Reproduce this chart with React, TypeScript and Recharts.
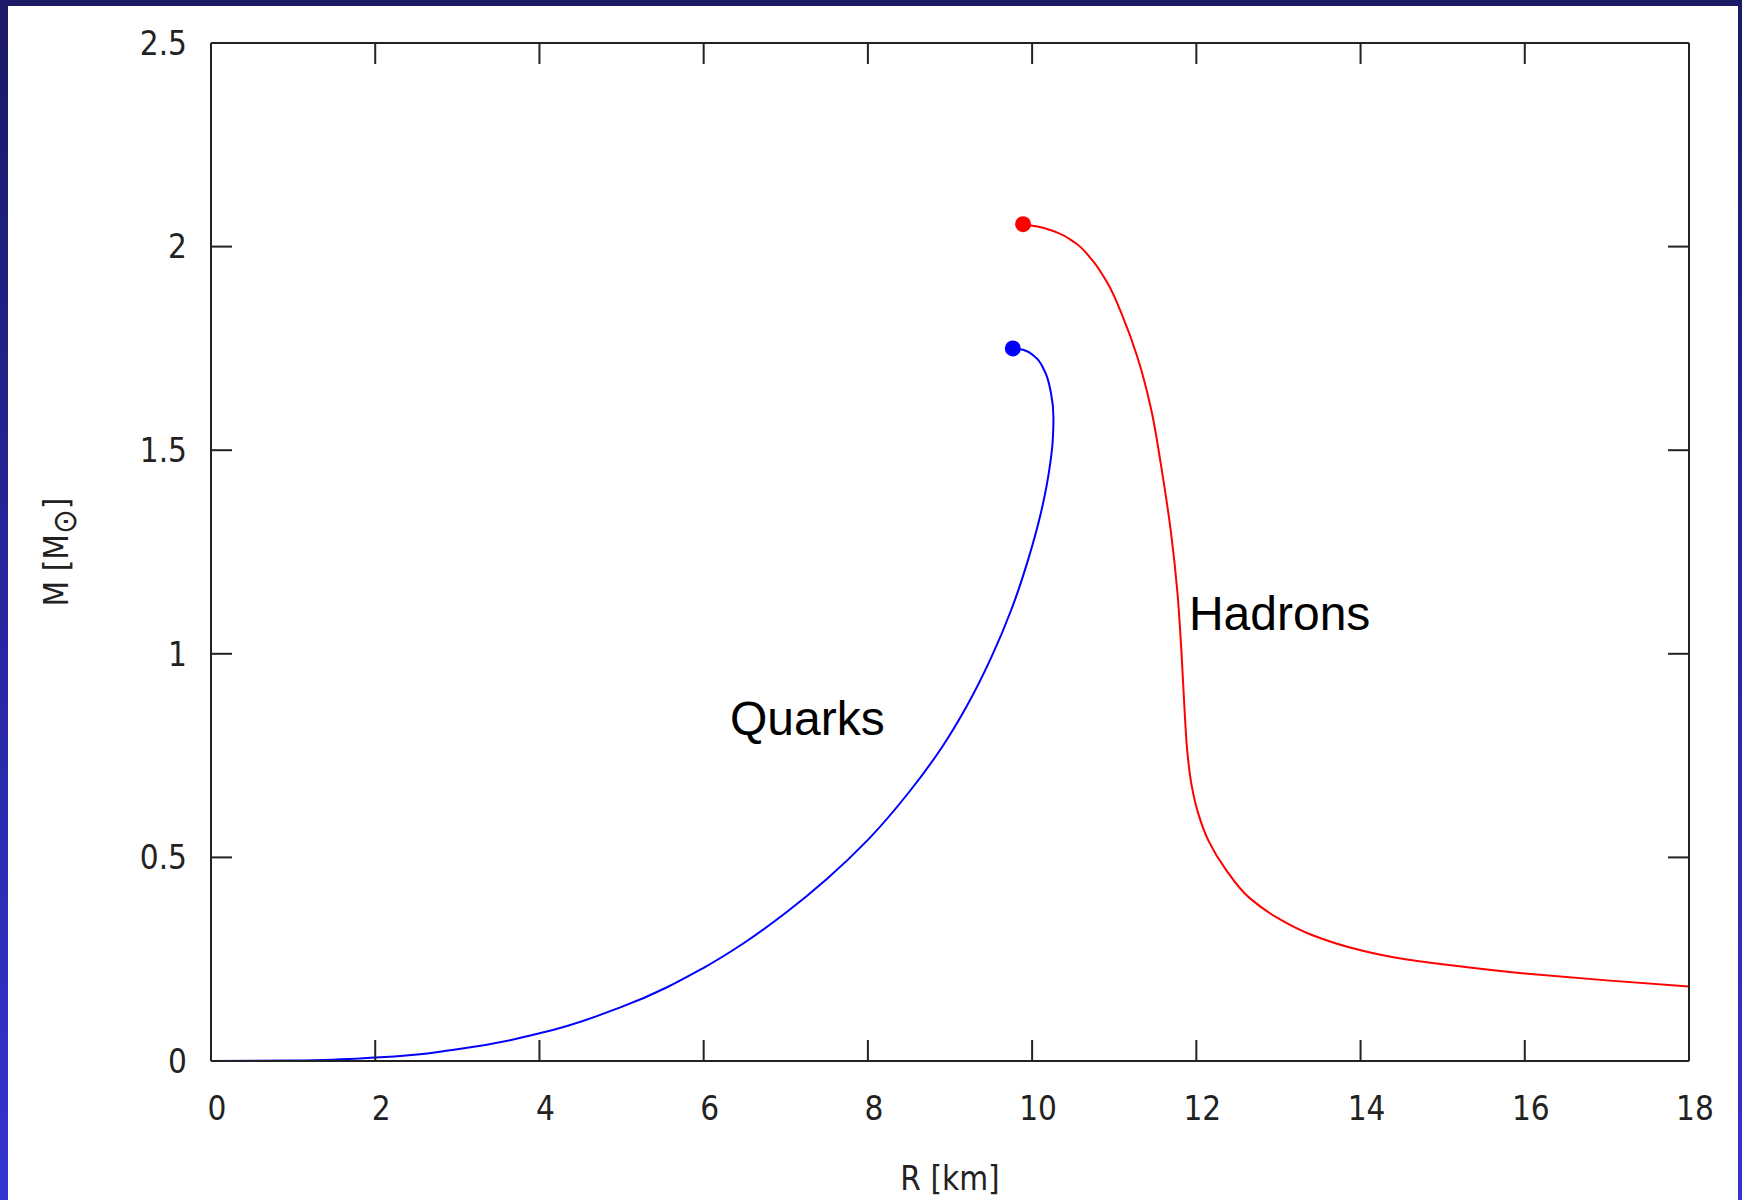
import React from 'react';
import { LineChart, Line, XAxis, YAxis, ReferenceDot, Label } from 'recharts';

// axis ticks
const xTicks = [0, 2, 4, 6, 8, 10, 12, 14, 16, 18];
const yTicks = [0, 0.5, 1, 1.5, 2, 2.5];

// quark star branch (R in km, M in solar masses)
const quarksR = [0, 1, 2, 3, 4, 5, 6, 6.5, 7, 7.5, 8, 8.5, 8.9, 9.2, 9.5, 9.75, 9.95, 10.1, 10.2, 10.25, 10.26, 10.23, 10.15, 10.03, 9.9, 9.77];
const quarksM = [0, 0.001, 0.0085, 0.029, 0.068, 0.133, 0.229, 0.291, 0.364, 0.447, 0.543, 0.66, 0.77, 0.87, 0.99, 1.11, 1.23, 1.34, 1.44, 1.52, 1.58, 1.64, 1.695, 1.73, 1.746, 1.75];

// hadronic branch
const hadronsR = [9.89, 10.05, 10.3, 10.52, 10.72, 10.92, 11.1, 11.28, 11.45, 11.58, 11.69, 11.77, 11.82, 11.86, 11.89, 11.94, 12.02, 12.15, 12.36, 12.65, 13.0, 13.4, 13.85, 14.4, 15.1, 16.0, 17.0, 18.0];
const hadronsM = [2.055, 2.05, 2.035, 2.01, 1.97, 1.91, 1.83, 1.73, 1.6, 1.45, 1.3, 1.15, 1.0, 0.85, 0.76, 0.68, 0.61, 0.54, 0.47, 0.4, 0.35, 0.31, 0.28, 0.255, 0.235, 0.215, 0.198, 0.183];

// maximum-mass points
const maxR = [9.765, 9.89];
const maxM = [1.75, 2.055];
const maxColors = ['#0000ff', '#ff0000'];

// curve labels
const labelNames = ['Quarks', 'Hadrons'];
const labelR = [6.32, 11.91];
const labelM = [0.842, 1.1];

const quarks = quarksR.map((r, i) => ({ r, m: quarksM[i] }));
const hadrons = hadronsR.map((r, i) => ({ r, m: hadronsM[i] }));

const tickFont = "'DejaVu Sans Condensed', 'DejaVu Sans', sans-serif";
const axisColor = '#222';
const frameLine = { stroke: axisColor, strokeWidth: 2 };

export default function App() {
  return (
    <div
      style={{
        position: 'absolute',
        left: 0,
        top: 0,
        width: 1742,
        height: 1200,
        background: 'linear-gradient(to bottom, #1a1a66 0%, #2626a0 50%, #3434d0 100%)',
        overflow: 'hidden',
      }}
    >
      <div
        style={{
          position: 'absolute',
          left: 7.5,
          top: 5.5,
          width: 1730,
          height: 1195,
          background: '#fff',
        }}
      />
      <div style={{ position: 'absolute', left: 0, top: 0 }}>
        <LineChart
          width={1742}
          height={1200}
          margin={{ top: 23, right: 33, bottom: 19, left: 61 }}
        >
          <XAxis
            xAxisId="bottom"
            type="number"
            dataKey="r"
            domain={[0, 18]}
            ticks={xTicks}
            allowDataOverflow
            height={120}
            tickSize={-21}
            tickMargin={57}
            axisLine={frameLine}
            tickLine={frameLine}
            tick={{ fill: axisColor, fontSize: 33, fontFamily: tickFont, dx: 6 }}
          >
            <Label
              content={() => (
                <text
                  x={950}
                  y={1190}
                  textAnchor="middle"
                  fill={axisColor}
                  fontSize={33}
                  fontFamily={tickFont}
                >
                  R [km]
                </text>
              )}
            />
          </XAxis>
          <XAxis
            xAxisId="top"
            orientation="top"
            type="number"
            dataKey="r"
            domain={[0, 18]}
            ticks={xTicks}
            allowDataOverflow
            height={20}
            tickSize={-21}
            tick={() => <g />}
            axisLine={frameLine}
            tickLine={frameLine}
          />
          <YAxis
            yAxisId="left"
            type="number"
            domain={[0, 2.5]}
            ticks={yTicks}
            allowDataOverflow
            width={150}
            tickSize={-21}
            tickMargin={45}
            axisLine={frameLine}
            tickLine={frameLine}
            tick={{ fill: axisColor, fontSize: 33, fontFamily: tickFont }}
          >
            <Label
              content={() => (
                <text
                  transform="translate(68,552) rotate(-90)"
                  textAnchor="middle"
                  fill={axisColor}
                  fontSize={33}
                  fontFamily={tickFont}
                >
                  M [M<tspan dy={8}>⊙</tspan>
                  <tspan dy={-8}>]</tspan>
                </text>
              )}
            />
          </YAxis>
          <YAxis
            yAxisId="right"
            orientation="right"
            type="number"
            domain={[0, 2.5]}
            ticks={yTicks}
            allowDataOverflow
            width={20}
            tickSize={-21}
            tick={() => <g />}
            axisLine={frameLine}
            tickLine={frameLine}
          />
          {/* invisible series so the mirrored frame axes get their ticks */}
          <Line
            xAxisId="top"
            yAxisId="right"
            data={hadrons}
            dataKey="m"
            stroke="none"
            dot={false}
            activeDot={false}
            isAnimationActive={false}
          />
          <Line
            xAxisId="bottom"
            yAxisId="left"
            data={quarks}
            dataKey="m"
            type="monotoneY"
            stroke="#0000ff"
            strokeWidth={2}
            dot={false}
            isAnimationActive={false}
          />
          <Line
            xAxisId="bottom"
            yAxisId="left"
            data={hadrons}
            dataKey="m"
            type="monotoneY"
            stroke="#ff0000"
            strokeWidth={2}
            dot={false}
            isAnimationActive={false}
          />
          {maxR.map((r, i) => (
            <ReferenceDot
              key={`max-${i}`}
              xAxisId="bottom"
              yAxisId="left"
              x={r}
              y={maxM[i]}
              r={8}
              fill={maxColors[i]}
              stroke="none"
            />
          ))}
          {labelNames.map((name, i) => (
            <ReferenceDot
              key={`lbl-${i}`}
              xAxisId="bottom"
              yAxisId="left"
              x={labelR[i]}
              y={labelM[i]}
              r={0}
              fill="none"
              stroke="none"
              label={{
                value: name,
                position: 'right',
                offset: 0,
                fontSize: 48,
                fill: '#000',
                fontFamily: "'Liberation Sans', Arial, sans-serif",
              }}
            />
          ))}
        </LineChart>
      </div>
    </div>
  );
}
